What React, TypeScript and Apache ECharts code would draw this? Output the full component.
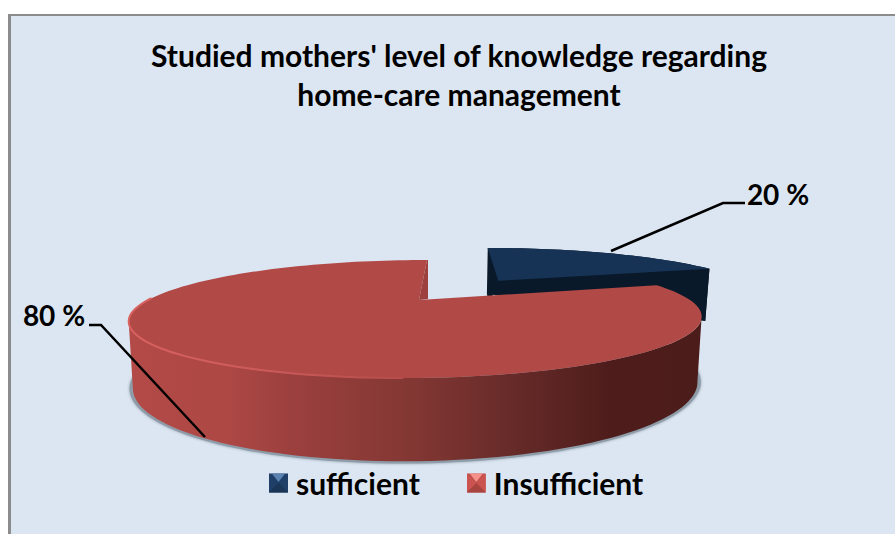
import React, { useEffect, useRef } from "react";
import * as echarts from "echarts";

const TITLE_LINES = ["Studied mothers' level of knowledge regarding", "home-care management"];
const CATEGORIES = ["sufficient", "Insufficient"];
const VALUES = [20, 80];
const TOP_COLORS = ["#163355", "#b14a47"];
const LEGEND_COLORS = ["#1f3f68", "#c0504d"];

const FONT = "Lato, Carlito, 'Open Sans', sans-serif";
const TOP_MAP = { cx: 419, y0: 300, R: 271, Ry: 52.9, k: 0.322, skew: 10.6 };
const BOTTOM_MAP = { cx: 419, y0: 361, R: 267, Ry: 68, k: 0.322, skew: 10.6 };
const EXPLODE = [[0.315, 0.41], [0, 0]];
const SLICE_SCALE = [1.03, 1];
const LABEL_POS = [{ x: 778, y: 194 }, { x: 54, y: 315 }];
const LEADERS = [
  [[611, 251], [723, 203], [745, 203]],
  [[89, 325], [101, 325], [205, 437]],
];

function project(u: number, v: number, m: any): number[] {
  const s = 1 / (1 + m.k * v);
  return [m.cx + m.R * u * s + m.skew * v * s, m.y0 - m.Ry * v * s];
}

function rim(a0: number, a1: number, off: number[], m: any, scale = 1): number[][] {
  const pts: number[][] = [];
  const n = Math.max(8, Math.round((a1 - a0) / 2));
  for (let i = 0; i <= n; i++) {
    const t = ((a0 + ((a1 - a0) * i) / n) * Math.PI) / 180;
    pts.push(project(scale * Math.sin(t) + off[0], scale * Math.cos(t) + off[1], m));
  }
  return pts;
}

function legendIcon(base: string, light: string, dark: string, side: string): string {
  const svg = `<svg xmlns="http://www.w3.org/2000/svg" width="20" height="20" viewBox="0 0 20 20"><rect width="20" height="20" fill="${base}"/><polygon points="3,0 17,0 10,9" fill="${light}"/><polygon points="0,0 10,10 0,20" fill="${side}"/><polygon points="20,0 10,10 20,20" fill="${side}"/><polygon points="0,20 10,10 20,20" fill="${dark}"/></svg>`;
  return "image://data:image/svg+xml;charset=utf-8," + encodeURIComponent(svg);
}

function makeRenderItem(idx: number) {
  return (_params: any, api: any) => {
    const total = VALUES.reduce((a, b) => a + b, 0);
    const value = api.value(0) as number;
    const before = VALUES.slice(0, idx).reduce((a, b) => a + b, 0);
    const a0 = (before / total) * 360;
    const a1 = ((before + value) / total) * 360;
    const off = EXPLODE[idx];
    const topRim = rim(a0, a1, off, TOP_MAP, SLICE_SCALE[idx]);
    const botRim = rim(a0, a1, off, BOTTOM_MAP, SLICE_SCALE[idx]);
    const apexTop = project(off[0], off[1], TOP_MAP);
    const apexBot = project(off[0], off[1], BOTTOM_MAP);
    const children: any[] = [];

    if (idx === 0) {
      children.push({
        type: "polygon",
        shape: { points: [...topRim, ...botRim.slice().reverse(), apexBot, topRim[0]] },
        style: { fill: "#0a1929" },
      });
      children.push({
        type: "polygon",
        shape: { points: [botRim[0], topRim[0], apexTop, topRim[topRim.length - 1], botRim[botRim.length - 1]] },
        style: { fill: "#0a1929" },
      });
      children.push({
        type: "polygon",
        shape: { points: [apexTop, ...topRim] },
        style: { fill: TOP_COLORS[0] },
      });
    } else {
      const xs = topRim.map((p) => p[0]);
      const iRight = xs.indexOf(Math.max(...xs));
      const iLeft = xs.indexOf(Math.min(...xs));
      const cx = BOTTOM_MAP.cx - 4;
      const cy = 385;
      const shadow = botRim.map((p) => [cx + (p[0] - cx) * 1.012, cy + (p[1] - cy) * 1.03]);
      children.push({
        type: "polygon",
        shape: { points: shadow },
        style: { fill: "#8d9ca8", shadowBlur: 3, shadowColor: "#8d9ca8" },
      });
      children.push({
        type: "polygon",
        shape: {
          points: [...topRim.slice(iRight, iLeft + 1), ...botRim.slice(iRight, iLeft + 1).reverse()],
        },
        style: {
          fill: {
            type: "linear", x: 129, y: 0, x2: 701, y2: 0, global: true,
            colorStops: [
              { offset: 0, color: "#b34a47" },
              { offset: 0.17, color: "#ad4845" },
              { offset: 0.28, color: "#9c403e" },
              { offset: 0.5, color: "#823733" },
              { offset: 0.68, color: "#652a28" },
              { offset: 0.84, color: "#4e1d1b" },
              { offset: 1, color: "#4c1c1b" },
            ],
          },
        },
      });
      children.push({
        type: "polygon",
        shape: { points: [apexTop, ...topRim] },
        style: { fill: TOP_COLORS[1] },
      });
      const last = topRim[topRim.length - 1];
      children.push({
        type: "polygon",
        shape: { points: [last, apexTop, [apexTop[0] + 9, apexTop[1] - 1], [last[0] + 1, last[1]]] },
        style: { fill: "#9d403e" },
      });
      children.push({
        type: "polyline",
        shape: { points: rim(180, 272, off, TOP_MAP) },
        style: {
          fill: "none",
          lineWidth: 2,
          stroke: {
            type: "linear", x: 129, y: 0, x2: 430, y2: 0, global: true,
            colorStops: [
              { offset: 0, color: "#d9625f" },
              { offset: 0.5, color: "#c9595a" },
              { offset: 1, color: "#b14a47" },
            ],
          },
        },
      });
    }

    children.push({
      type: "polyline",
      shape: { points: LEADERS[idx] },
      style: { fill: "none", stroke: "#000000", lineWidth: 2.5 },
    });
    children.push({
      type: "text",
      style: {
        text: `${value} %`,
        x: LABEL_POS[idx].x,
        y: LABEL_POS[idx].y,
        align: "center",
        verticalAlign: "middle",
        fontFamily: FONT,
        fontWeight: "bold",
        fontSize: 28,
        fill: "#000000",
      },
    });
    return { type: "group", children };
  };
}

export default function App() {
  const ref = useRef<HTMLDivElement>(null);
  useEffect(() => {
    document.body.style.margin = "0";
    const chart = echarts.init(ref.current!, null, { renderer: "svg" });
    chart.setOption({
      animation: false,
      backgroundColor: "#ffffff",
      title: {
        text: TITLE_LINES.join("\n"),
        left: 454,
        top: 30,
        textAlign: "center",
        textStyle: {
          fontFamily: FONT,
          fontWeight: "bold",
          fontSize: 30,
          lineHeight: 39,
          color: "#000000",
        },
      },
      legend: {
        left: 264,
        top: 463,
        itemWidth: 19,
        itemHeight: 20,
        itemGap: 47,
        selectedMode: false,
        textStyle: {
          fontFamily: FONT,
          fontWeight: "bold",
          fontSize: 30,
          color: "#000000",
          padding: [0, 0, 0, 3],
        },
        data: [
          { name: CATEGORIES[0], icon: legendIcon("#1f3f68", "#5a82b0", "#1a3556", "#1f3f68") },
          { name: CATEGORIES[1], icon: legendIcon("#c0504d", "#f5908b", "#a8433f", "#cc5450") },
        ],
      },
      graphic: [
        { type: "rect", z: -10, silent: true, shape: { x: 8, y: 14, width: 900, height: 540 }, style: { fill: "#8c8c8c" } },
        { type: "rect", z: -9, silent: true, shape: { x: 11, y: 16, width: 900, height: 540 }, style: { fill: "#dce6f2" } },
      ],
      series: CATEGORIES.map((name, i) => ({
        type: "custom",
        name,
        coordinateSystem: "none",
        silent: true,
        z: 2 + i,
        itemStyle: { color: LEGEND_COLORS[i] },
        renderItem: makeRenderItem(i),
        data: [[VALUES[i]]],
      })),
    });
    return () => chart.dispose();
  }, []);
  return <div ref={ref} style={{ position: "fixed", left: 0, top: 0, width: 895, height: 534 }} />;
}
